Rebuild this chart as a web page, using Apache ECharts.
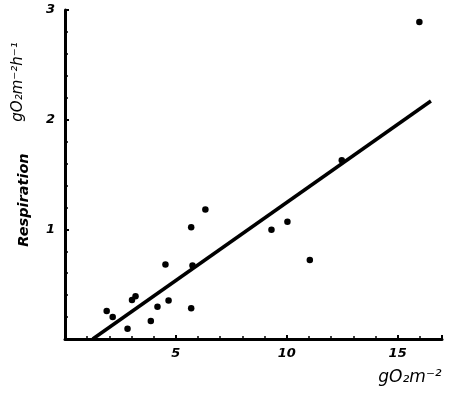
<!DOCTYPE html>
<html><head><meta charset="utf-8">
<script src="https://cdn.jsdelivr.net/npm/echarts@6/dist/echarts.min.js"></script>
<style>html,body{margin:0;padding:0;background:#fff}#c{width:450px;height:393px}</style>
</head><body><div id="c"></div>
<script>
var biomassX = [1.88, 2.15, 2.82, 3.02, 3.18, 3.87, 4.17, 4.53, 4.67, 5.69, 5.75, 5.69, 6.33, 9.31, 10.03, 11.04, 12.48, 15.98];
var respY    = [0.255, 0.20, 0.094, 0.355, 0.39, 0.164, 0.294, 0.68, 0.35, 1.02, 0.67, 0.28, 1.18, 0.997, 1.07, 0.72, 1.63, 2.89];
var fitX = [1.25, 16.5];
var fitY = [0, 2.17];
var xTicks = [5, 10, 15];
var yTicks = [1, 2, 3];

var chart = echarts.init(document.getElementById('c'), null, {renderer: 'canvas'});
var font = 'DejaVu Sans';
chart.setOption({
  animation: false,
  grid: {left: 65, top: 10, right: 8, bottom: 54},
  xAxis: {
    type: 'value', min: 0, max: 17, interval: 5,
    axisLine: {lineStyle: {color: '#000', width: 3}},
    axisTick: {inside: true, length: 4, lineStyle: {color: '#000', width: 2}},
    minorTick: {show: true, splitNumber: 5, length: 3, lineStyle: {color: '#000', width: 1.5}},
    splitLine: {show: false},
    axisLabel: {color: '#000', fontFamily: font, fontStyle: 'italic', fontWeight: 'bold', fontSize: 13, margin: 8,
      formatter: function (v) { return xTicks.indexOf(v) >= 0 ? String(v) : ''; }}
  },
  yAxis: {
    type: 'value', min: 0, max: 3, interval: 1,
    axisLine: {lineStyle: {color: '#000', width: 3}},
    axisTick: {inside: true, length: 4, lineStyle: {color: '#000', width: 2}},
    minorTick: {show: true, splitNumber: 5, length: 3, lineStyle: {color: '#000', width: 1.5}},
    splitLine: {show: false},
    axisLabel: {color: '#000', fontFamily: font, fontStyle: 'italic', fontWeight: 'bold', fontSize: 13, margin: 10,
      formatter: function (v) { return yTicks.indexOf(v) >= 0 ? String(v) : ''; }}
  },
  series: [
    {type: 'scatter', data: biomassX.map(function (x, i) { return [x, respY[i]]; }),
     symbolSize: 6.5, itemStyle: {color: '#000', opacity: 1}},
    {type: 'line', data: fitX.map(function (x, i) { return [x, fitY[i]]; }),
     symbol: 'none', lineStyle: {color: '#000', width: 3.5}}
  ],
  graphic: [
    {type: 'text', x: 24, y: 200, rotation: Math.PI / 2,
     style: {text: 'Respiration', font: 'italic bold 14.5px "DejaVu Sans"', fill: '#000', align: 'center', verticalAlign: 'middle'}},
    {type: 'text', x: 18, y: 82, rotation: Math.PI / 2,
     style: {text: 'gO₂m⁻²h⁻¹', font: 'italic 15px "DejaVu Sans"', fill: '#000', align: 'center', verticalAlign: 'middle'}},
    {type: 'text', x: 410, y: 378,
     style: {text: 'gO₂m⁻²', font: 'italic 17px "DejaVu Sans"', fill: '#000', align: 'center', verticalAlign: 'middle'}}
  ]
});
</script></body></html>
